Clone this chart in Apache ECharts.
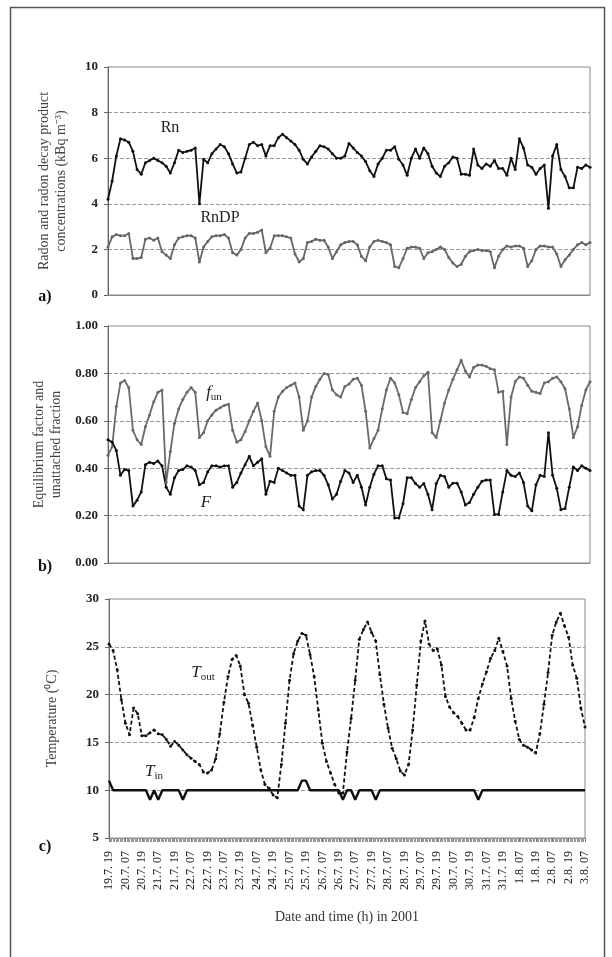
<!DOCTYPE html>
<html>
<head>
<meta charset="utf-8">
<script src="https://cdn.jsdelivr.net/npm/echarts@6/dist/echarts.min.js"></script>
<style>
  html, body { margin: 0; padding: 0; background: #fff; }
  #chart { width: 612px; height: 957px; }
</style>
</head>
<body>
<div id="chart"></div>
<script>
// readings every 3 hours, starting 19.7. 19h
const STEP = 3;

const tickLabels = ['19.7. 19', '20.7. 07', '20.7. 19', '21.7. 07', '21.7. 19', '22.7. 07',
  '22.7. 19', '23.7. 07', '23.7. 19', '24.7. 07', '24.7. 19', '25.7. 07', '25.7. 19',
  '26.7. 07', '26.7. 19', '27.7. 07', '27.7. 19', '28.7. 07', '28.7. 19', '29.7. 07',
  '29.7. 19', '30.7. 07', '30.7. 19', '31.7. 07', '31.7. 19', '1.8. 07', '1.8. 19',
  '2.8. 07', '2.8. 19', '3.8. 07'];

// a) concentrations, kBq m-3
const rn = [4.2, 5.0, 6.1, 6.85, 6.8, 6.7, 6.3, 5.5, 5.3, 5.8,
  5.9, 6.0, 5.9, 5.8, 5.65, 5.35, 5.8, 6.35, 6.25, 6.3,
  6.35, 6.45, 4.0, 5.95, 5.8, 6.2, 6.4, 6.6, 6.5, 6.2,
  5.75, 5.35, 5.4, 6.0, 6.6, 6.7, 6.55, 6.6, 6.1, 6.55,
  6.55, 6.9, 7.05, 6.9, 6.75, 6.6, 6.35, 5.95, 5.75, 6.05,
  6.3, 6.55, 6.5, 6.4, 6.2, 6.0, 6.0, 6.1, 6.65, 6.45,
  6.25, 6.1, 5.85, 5.45, 5.2, 5.75, 6.0, 6.35, 6.35, 6.5,
  5.95, 5.7, 5.25, 6.0, 6.4, 6.0, 6.45, 6.2, 5.65, 5.35,
  5.2, 5.65, 5.8, 6.05, 6.0, 5.3, 5.3, 5.25, 6.4, 5.7,
  5.55, 5.75, 5.65, 5.9, 5.55, 5.55, 5.25, 6.0, 5.5, 6.85,
  6.45, 5.7, 5.6, 5.3, 5.55, 5.7, 3.8, 6.1, 6.6, 5.5,
  5.2, 4.7, 4.7, 5.6, 5.55, 5.7, 5.6];
const rndp = [2.1, 2.55, 2.65, 2.6, 2.6, 2.7, 1.6, 1.6, 1.65, 2.45,
  2.5, 2.4, 2.5, 1.9, 1.75, 1.6, 2.2, 2.5, 2.55, 2.6,
  2.6, 2.5, 1.45, 2.1, 2.35, 2.55, 2.6, 2.6, 2.65, 2.5,
  1.85, 1.75, 2.0, 2.5, 2.7, 2.7, 2.75, 2.85, 1.85, 2.05,
  2.6, 2.6, 2.6, 2.55, 2.5, 1.8, 1.45, 1.6, 2.3, 2.35,
  2.45, 2.4, 2.4, 2.1, 1.6, 1.9, 2.2, 2.3, 2.35, 2.35,
  2.2, 1.7, 1.5, 2.1, 2.35, 2.4, 2.35, 2.3, 2.2, 1.25,
  1.2, 1.6, 2.05, 2.1, 2.1, 2.05, 1.6, 1.85, 1.9, 2.0,
  2.1, 2.0, 1.65, 1.4, 1.25, 1.35, 1.7, 1.9, 1.95, 2.0,
  1.95, 1.95, 1.9, 1.2, 1.7, 2.0, 2.15, 2.1, 2.15, 2.15,
  2.05, 1.25, 1.5, 2.0, 2.15, 2.15, 2.1, 2.1, 1.8, 1.25,
  1.55, 1.75, 2.0, 2.2, 2.3, 2.2, 2.3];

// b) unattached fraction and equilibrium factor
const fun = [0.455, 0.49, 0.66, 0.76, 0.77, 0.74, 0.56, 0.52, 0.50, 0.575,
  0.625, 0.68, 0.72, 0.73, 0.34, 0.47, 0.59, 0.65, 0.69, 0.72,
  0.74, 0.72, 0.53, 0.55, 0.60, 0.625, 0.645, 0.655, 0.665, 0.67,
  0.56, 0.51, 0.52, 0.555, 0.60, 0.64, 0.675, 0.60, 0.49, 0.45,
  0.64, 0.70, 0.725, 0.74, 0.75, 0.76, 0.70, 0.56, 0.60, 0.70,
  0.745, 0.775, 0.80, 0.795, 0.73, 0.71, 0.70, 0.745, 0.755, 0.775,
  0.78, 0.75, 0.64, 0.485, 0.525, 0.56, 0.65, 0.73, 0.78, 0.76,
  0.71, 0.635, 0.63, 0.69, 0.74, 0.765, 0.79, 0.805, 0.55, 0.53,
  0.60, 0.675, 0.73, 0.775, 0.815, 0.855, 0.81, 0.785, 0.825, 0.835,
  0.835, 0.83, 0.82, 0.815, 0.72, 0.725, 0.50, 0.70, 0.765, 0.785,
  0.78, 0.75, 0.725, 0.72, 0.715, 0.76, 0.765, 0.78, 0.785, 0.765,
  0.735, 0.65, 0.53, 0.575, 0.665, 0.73, 0.765];
const eqF = [0.52, 0.51, 0.475, 0.37, 0.395, 0.39, 0.24, 0.265, 0.30, 0.415,
  0.425, 0.42, 0.43, 0.41, 0.32, 0.29, 0.36, 0.39, 0.395, 0.41,
  0.405, 0.39, 0.33, 0.34, 0.385, 0.41, 0.41, 0.405, 0.41, 0.41,
  0.32, 0.34, 0.38, 0.415, 0.45, 0.41, 0.425, 0.44, 0.29, 0.345,
  0.34, 0.40, 0.39, 0.38, 0.37, 0.37, 0.24, 0.225, 0.37, 0.385,
  0.39, 0.39, 0.37, 0.33, 0.27, 0.29, 0.345, 0.39, 0.38, 0.34,
  0.37, 0.32, 0.245, 0.32, 0.375, 0.41, 0.41, 0.355, 0.35, 0.19,
  0.19, 0.25, 0.36, 0.36, 0.335, 0.32, 0.335, 0.29, 0.225, 0.335,
  0.37, 0.365, 0.32, 0.337, 0.337, 0.30, 0.245, 0.255, 0.29, 0.32,
  0.345, 0.35, 0.35, 0.205, 0.205, 0.30, 0.39, 0.37, 0.365, 0.38,
  0.34, 0.24, 0.22, 0.33, 0.37, 0.365, 0.55, 0.37, 0.315, 0.225,
  0.23, 0.32, 0.405, 0.39, 0.41, 0.40, 0.39];

// c) temperatures, degC
const tOut = [25.3, 24.6, 22.6, 19.5, 17.0, 15.8, 18.6, 18.0, 15.7, 15.7,
  16.0, 16.3, 15.9, 15.8, 15.3, 14.6, 15.1, 14.7, 14.2, 13.7,
  13.35, 13.0, 12.7, 11.9, 11.8, 12.1, 13.3, 15.9, 19.2, 21.9,
  23.7, 24.1, 23.0, 20.0, 19.1, 16.8, 14.5, 12.1, 10.6, 10.2,
  9.5, 9.2, 12.7, 17.0, 21.5, 24.3, 25.6, 26.4, 26.2, 24.2,
  21.9, 18.4, 14.9, 13.0, 11.8, 10.6, 9.7, 9.7, 14.0, 17.5,
  21.5, 25.8, 26.8, 27.6, 26.5, 25.6, 22.1, 19.0, 16.5, 14.4,
  13.3, 12.0, 11.6, 12.7, 16.3, 21.0, 25.6, 27.7, 25.3, 24.6,
  24.8, 23.1, 19.8, 18.7, 18.1, 17.7, 17.0, 16.3, 16.3, 17.6,
  19.6, 21.1, 22.4, 23.8, 24.6, 25.9, 24.5, 23.0, 19.6, 17.2,
  15.3, 14.7, 14.5, 14.2, 13.9, 15.9, 19.0, 22.3, 26.2, 27.6,
  28.5, 27.2, 26.0, 23.1, 21.7, 18.6, 16.6];
const tIn = [11, 10, 10, 10, 10, 10, 10, 10, 10, 10,
  9, 10, 9, 10, 10, 10, 10, 10, 9, 10,
  10, 10, 10, 10, 10, 10, 10, 10, 10, 10,
  10, 10, 10, 10, 10, 10, 10, 10, 10, 10,
  10, 10, 10, 10, 10, 10, 10, 11, 11, 10,
  10, 10, 10, 10, 10, 10, 10, 9, 10, 10,
  9, 10, 10, 10, 10, 9, 10, 10, 10, 10,
  10, 10, 10, 10, 10, 10, 10, 10, 10, 10,
  10, 10, 10, 10, 10, 10, 10, 10, 10, 10,
  9, 10, 10, 10, 10, 10, 10, 10, 10, 10,
  10, 10, 10, 10, 10, 10, 10, 10, 10, 10,
  10, 10, 10, 10, 10, 10, 10];

const FONT = 'Liberation Serif';
const lastHour = (tickLabels.length - 1) * 12;

function pts(arr) {
  return arr.map((v, i) => [i * STEP, v]);
}

function xAxisFor(idx, withLabels) {
  return {
    type: 'value', gridIndex: idx, min: 0, max: lastHour, interval: 12,
    splitLine: { show: false },
    axisLine: { lineStyle: { color: '#888', width: 1 } },
    axisTick: { show: withLabels, length: 4, lineStyle: { color: '#777' } },
    minorTick: { show: withLabels, splitNumber: 12, length: 4, lineStyle: { color: '#999' } },
    axisLabel: {
      show: withLabels, rotate: 90, fontSize: 12, color: '#222', margin: 13,
      formatter: v => tickLabels[Math.round(v / 12)]
    },
    name: withLabels ? 'Date and time (h) in 2001' : '',
    nameLocation: 'middle', nameGap: 72,
    nameTextStyle: { fontSize: 14, color: '#333', fontFamily: FONT }
  };
}

function yAxisFor(idx, min, max, interval, name, gap, digits) {
  return {
    type: 'value', gridIndex: idx, min: min, max: max, interval: interval,
    name: name, nameLocation: 'middle', nameGap: gap,
    nameTextStyle: { fontSize: 14, color: '#444', lineHeight: 17, fontFamily: FONT },
    axisLine: { show: true, lineStyle: { color: '#666', width: 1 } },
    axisTick: { show: true, length: 4, lineStyle: { color: '#666' } },
    axisLabel: {
      fontSize: 13, fontWeight: 'bold', color: '#222', margin: 10,
      formatter: v => v.toFixed(digits)
    },
    splitLine: {
      show: true, showMinLine: false, showMaxLine: false,
      lineStyle: { type: 'dashed', color: '#999', width: 1 }
    }
  };
}

function lineSeries(data, xi, color, opts) {
  return Object.assign({
    type: 'line', xAxisIndex: xi, yAxisIndex: xi, data: pts(data),
    symbol: 'circle', symbolSize: 3, showSymbol: true,
    lineStyle: { color: color, width: 1.8 },
    itemStyle: { color: color },
    emphasis: { disabled: true }
  }, opts || {});
}

function note(x, y, text, rich, bold) {
  return {
    type: 'text', x: x, y: y, silent: true,
    style: {
      text: text, rich: rich, fontFamily: FONT, fontSize: 16,
      fontWeight: bold ? 'bold' : 'normal', fill: bold ? '#111' : '#222',
      textAlign: 'center', textVerticalAlign: 'middle'
    }
  };
}

const subRich = {
  i: { fontFamily: FONT, fontSize: 17, fontStyle: 'italic', lineHeight: 20, fill: '#222' },
  s: { fontFamily: FONT, fontSize: 11, lineHeight: 20, verticalAlign: 'bottom', padding: [8, 0, 0, 0], fill: '#222' }
};

const chart = echarts.init(document.getElementById('chart'), null, { renderer: 'canvas' });

chart.setOption({
  animation: false,
  backgroundColor: '#fff',
  textStyle: { fontFamily: FONT },
  grid: [
    { left: 108, right: 22, top: 67, height: 228, show: true, borderColor: '#888', borderWidth: 1 },
    { left: 108, right: 22, top: 326, height: 237, show: true, borderColor: '#888', borderWidth: 1 },
    { left: 109, right: 27, top: 599, height: 239, show: true, borderColor: '#888', borderWidth: 1 }
  ],
  xAxis: [xAxisFor(0, false), xAxisFor(1, false), xAxisFor(2, true)],
  yAxis: [
    yAxisFor(0, 0, 10, 2, 'Radon and radon decay product\nconcentrations (kBq m\u207B\u00B3)', 38, 0),
    yAxisFor(1, 0, 1, 0.2, 'Equilibrium factor and\nunattached fraction', 38, 2),
    yAxisFor(2, 5, 30, 5, 'Temperature (\u2070C)', 48, 0)
  ],
  series: [
    lineSeries(rn, 0, '#111'),
    lineSeries(rndp, 0, '#666'),
    lineSeries(fun, 1, '#6a6a6a'),
    lineSeries(eqF, 1, '#111'),
    lineSeries(tOut, 2, '#111', { lineStyle: { color: '#111', width: 1.8, type: [4, 2.5] } }),
    lineSeries(tIn, 2, '#111', { showSymbol: false, lineStyle: { color: '#111', width: 2.4 } })
  ],
  graphic: [
    {
      type: 'rect', silent: true, z: -1,
      shape: { x: 10.5, y: 7.5, width: 594, height: 970 },
      style: { fill: 'none', stroke: '#555', lineWidth: 1.5 }
    },
    note(170, 128, 'Rn'),
    note(220, 218, 'RnDP'),
    note(214, 393, '{i|f}{s|un}', subRich),
    note(206, 503, '{i|F}', subRich),
    note(203, 673, '{i|T}{s|out}', subRich),
    note(154, 772, '{i|T}{s|in}', subRich),
    note(45, 297, 'a)', null, true),
    note(45, 567, 'b)', null, true),
    note(45, 847, 'c)', null, true)
  ]
});
</script>
</body>
</html>
